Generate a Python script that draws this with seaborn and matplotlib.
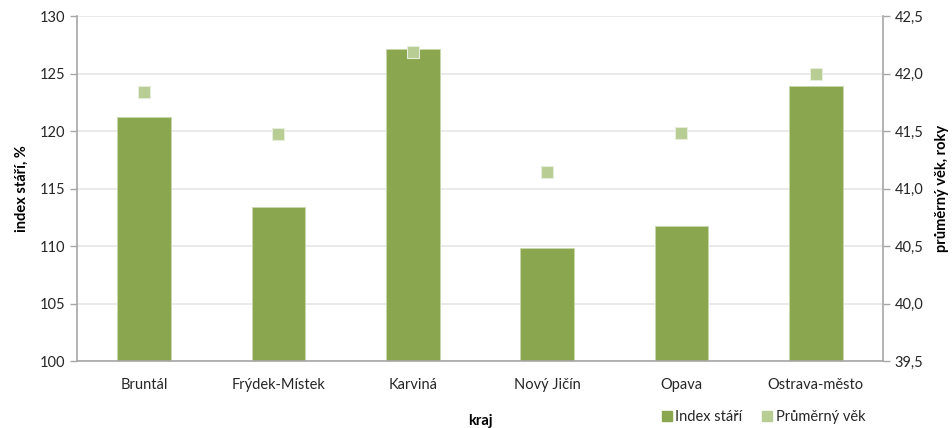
import matplotlib
matplotlib.use("Agg")
import matplotlib.pyplot as plt
from matplotlib.lines import Line2D
from matplotlib.ticker import FuncFormatter, MultipleLocator
import numpy as np
import pandas as pd
import seaborn as sns

# Okresy Moravskoslezského kraje
categories = ["Bruntál", "Frýdek-Místek", "Karviná", "Nový Jičín", "Opava", "Ostrava-město"]
index_stari = [121.2, 113.4, 127.1, 109.8, 111.7, 123.9]
prumerny_vek = [41.84, 41.47, 42.19, 41.14, 41.48, 42.00]

left_ticks = [100, 105, 110, 115, 120, 125, 130]
right_ticks = [39.5, 40.0, 40.5, 41.0, 41.5, 42.0, 42.5]

bar_color = "#8aa64f"
marker_color = "#b7cd93"
spine_color = "#a6a6a6"
grid_color = "#e6e6e6"
text_color = "#262626"

df = pd.DataFrame({"kraj": categories, "index": index_stari, "vek": prumerny_vek})

sns.set_theme(style="white")
plt.rcParams["font.family"] = ["Lato", "DejaVu Sans"]
plt.rcParams["font.size"] = 10.5

fig = plt.figure(figsize=(9.53, 4.28), dpi=100)
ax = fig.add_axes([0.0808, 0.1565, 0.8457, 0.806])

sns.barplot(data=df, x="kraj", y="index", color=bar_color, saturation=1,
            width=0.4, ax=ax, edgecolor="#c9d9ad", linewidth=0.6, zorder=2)

ax.set_ylim(left_ticks[0], left_ticks[-1])
ax.set_yticks(left_ticks)
ax.set_xlim(-0.5, len(categories) - 0.5)
ax.yaxis.grid(True, color=grid_color, linewidth=1.2, zorder=0)
ax.set_axisbelow(True)

# category labels in the middle, tick marks on the boundaries
ax.set_xticks(np.arange(len(categories)), labels=categories, minor=True)
ax.set_xticks(np.arange(-0.5, len(categories)), labels=[""] * (len(categories) + 1))
ax.tick_params(axis="x", which="minor", length=0, pad=12, labelsize=10.5, labelcolor=text_color)
ax.tick_params(axis="x", which="major", length=5, width=1, color=spine_color, direction="out")
ax.tick_params(axis="y", length=5, width=1, color=spine_color, direction="out",
               labelsize=10.5, labelcolor=text_color, left=True)

for side in ["top", "right"]:
    ax.spines[side].set_visible(False)
for side in ["left", "bottom"]:
    ax.spines[side].set_color(spine_color)
    ax.spines[side].set_linewidth(1.2)

ax.set_xlabel("kraj", fontweight="bold", fontsize=10.5, color="#000000", labelpad=16)
ax.set_ylabel("index stáří, %", fontweight="bold", fontsize=10.5, color="#000000", labelpad=8)

ax2 = ax.twinx()
sns.scatterplot(data=df, x="kraj", y="vek", marker="s", s=80, color=marker_color,
                edgecolor="#e6eedb", linewidth=0.8, ax=ax2, zorder=3, legend=False)
ax2.set_ylim(right_ticks[0], right_ticks[-1])
ax2.set_yticks(right_ticks)
ax2.yaxis.set_major_formatter(FuncFormatter(lambda v, _: f"{v:.1f}".replace(".", ",")))
ax2.tick_params(axis="y", length=5, width=1, color=spine_color, direction="out",
                labelsize=10.5, labelcolor=text_color, right=True)
for side in ["top", "left", "bottom"]:
    ax2.spines[side].set_visible(False)
ax2.spines["right"].set_color(spine_color)
ax2.spines["right"].set_linewidth(1.2)
ax2.set_ylabel("průměrný věk, roky", fontweight="bold", fontsize=10.5, color="#000000", labelpad=8)
ax2.set_xlim(-0.5, len(categories) - 0.5)

handles = [
    Line2D([], [], linestyle="none", marker="s", markersize=7, color=bar_color),
    Line2D([], [], linestyle="none", marker="s", markersize=7, color=marker_color),
]
fig.legend(handles, ["Index stáří", "Průměrný věk"], loc="center", ncol=2,
           bbox_to_anchor=(0.8, 0.025), frameon=False, fontsize=10.5,
           handletextpad=0.1, columnspacing=1.2, handlelength=1.0)

fig.savefig("out.png", dpi=100, facecolor="white")
